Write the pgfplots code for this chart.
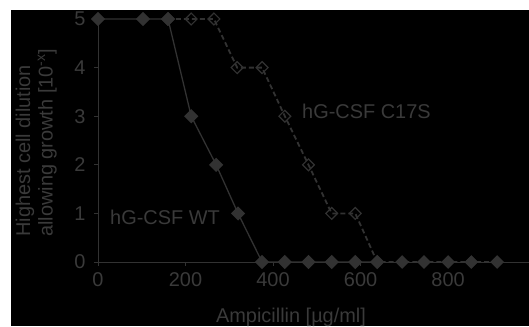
\documentclass[border=0pt]{standalone}
\usepackage{pgfplots}
\pgfplotsset{compat=1.18}
\usepackage{fontspec}
\setmainfont{Liberation Sans}
\definecolor{ln}{RGB}{50,50,50}
\definecolor{tx}{RGB}{58,58,58}
\begin{document}
\begin{tikzpicture}[x=1bp,y=1bp]
\useasboundingbox (0,0) rectangle (529,326);
\fill[white] (0,0) rectangle (529,326);
\fill[black] (11,0) rectangle (529,316);
\begin{axis}[
  at={(98bp,64bp)}, anchor=south west,
  scale only axis, width=431bp, height=243bp,
  xmin=0, xmax=985, ymin=0, ymax=5,
  axis lines=left, axis line style={-, ln, line width=1pt},
  xtick={0,200,400,600,800}, ytick={0,1,2,3,4,5},
  tick align=outside, major tick length=4bp,
  tick style={ln, line width=1pt},
  every tick label/.append style={font=\fontsize{20}{24}\selectfont, text=tx},
  /pgf/number format/assume math mode=true,
  xticklabel style={yshift=-3bp},
  yticklabel style={xshift=-5bp},
  clip=false,
]
\addplot[ln, line width=1.8pt, dash pattern=on 5pt off 3pt, mark=square, mark size=4.2pt,
  mark options={solid, rotate=45, fill=black, draw=ln, line width=1.2pt}]
  coordinates {(160,5)(213,5)(265,5)(318,4)(375,4)(427,3)(481,2)(534,1)(588,1)(638,0)(695,0)(745,0)(800,0)(853,0)(912,0)};
\addplot[ln, line width=1.3pt, mark=square*, mark size=4.4pt, mark options={rotate=45, fill=ln, draw=ln}]
  coordinates {(0,5)(103,5)(160,5)(213,3)(270,2)(320,1)(375,0)(427,0)(481,0)(534,0)(588,0)(638,0)};
\addplot[only marks, mark=square*, mark size=4.4pt, mark options={rotate=45, fill=ln, draw=ln}]
  coordinates {(695,0)(745,0)(800,0)(853,0)(912,0)};
\end{axis}
\node[anchor=west, text=tx, font=\fontsize{20}{24}\selectfont, inner sep=0pt] at (302,215) {hG-CSF C17S};
\node[anchor=west, text=tx, font=\fontsize{20}{24}\selectfont, inner sep=0pt] at (110,109) {hG-CSF WT};
\node[anchor=base, text=tx, font=\fontsize{20}{24}\selectfont, inner sep=0pt] at (291,4) {Ampicillin [µg/ml]};
\node[anchor=base west, rotate=90, text=tx, font=\fontsize{20}{24}\selectfont, inner sep=0pt] at (30,89) {Highest cell dilution};
\node[anchor=base west, rotate=90, text=tx, font=\fontsize{20}{24}\selectfont, inner sep=0pt] at (52.5,89) {allowing growth [10\textsuperscript{-x}]};
\end{tikzpicture}
\end{document}
